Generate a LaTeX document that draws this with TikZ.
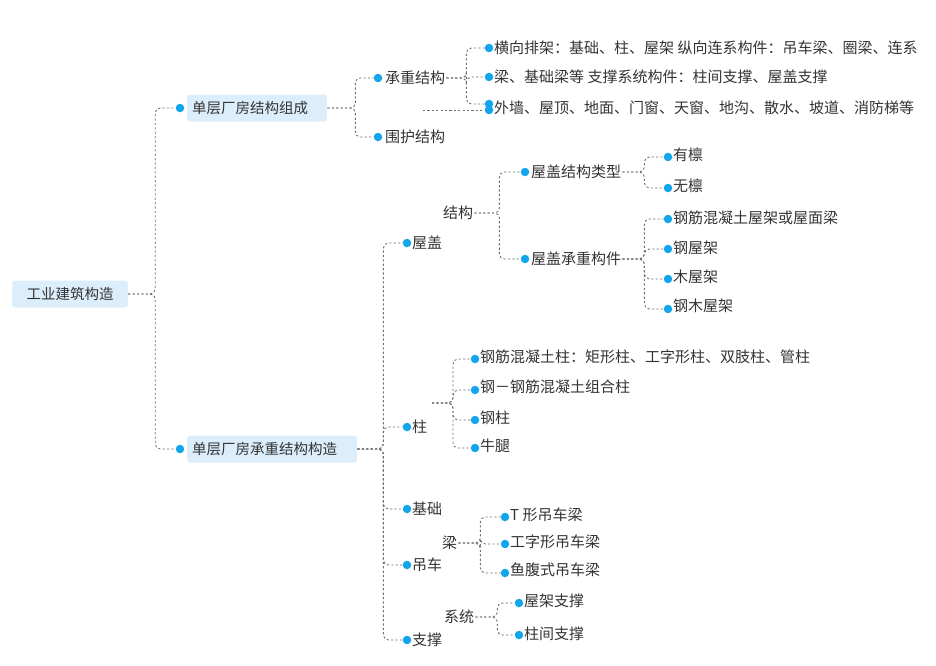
\documentclass[tikz,border=0pt]{standalone}
\usepackage{fontspec}
\setmainfont{Noto Sans CJK SC}
\usepackage{tikz}
\usetikzlibrary{positioning}
\definecolor{dotblue}{HTML}{13A5EC}
\definecolor{boxblue}{HTML}{DCEEFB}
\definecolor{linegray}{HTML}{707070}
\definecolor{txt}{HTML}{333333}
\tikzset{
  dot/.style={circle,fill=dotblue,inner sep=0pt,minimum size=8.5pt},
  leaf/.style={inner sep=1pt,anchor=west,text=txt,font=\fontsize{15}{17}\selectfont},
  topic/.style={fill=boxblue,rounded corners=3pt,inner sep=5pt,minimum height=27pt,text=txt,font=\fontsize{14.5}{16}\selectfont},
  link/.style={draw=linegray,line width=0.9pt,dash pattern=on 2.2pt off 2.2pt,rounded corners=5pt}
}
\newcommand\branch[3]{\draw[link] (#1) -- ++(#2,0) |- (#3);}
\begin{document}
\begin{tikzpicture}[x=1pt,y=-1pt]
\useasboundingbox (0,0) rectangle (936,665);
% root
\node[topic,minimum width=116pt] (root) at (70,294) {工业建筑构造};
\node[dot] (d1) at (180,108) {};
\node[topic,text width=130pt,align=left,anchor=west] (t1) at (187,108) {单层厂房结构组成};
\node[dot] (d2) at (180,449) {};
\node[topic,text width=160pt,align=left,anchor=west] (t2) at (187,449) {单层厂房承重结构构造};
\branch{root.east}{27}{d1}
\branch{root.east}{27}{d2}
% 组成
\node[dot] (d11) at (378,78) {};
\node[leaf] (t11) at (384,78) {承重结构};
\node[dot] (d12) at (378,137) {};
\node[leaf] (t12) at (384,137) {围护结构};
\branch{t1.east}{28}{d11}
\branch{t1.east}{28}{d12}
\node[dot] (d111) at (489,48) {};
\node[leaf] (t111) at (493,48) {横向排架：基础、柱、屋架 纵向连系构件：吊车梁、圈梁、连系};
\node[dot] (d112) at (489,77) {};
\node[leaf] (t112) at (493,77) {梁、基础梁等 支撑系统构件：柱间支撑、屋盖支撑};
\node[dot] (d113) at (489,104) {};
\node[dot] (d121) at (489,110) {};
\node[leaf] (t121) at (493,108) {外墙、屋顶、地面、门窗、天窗、地沟、散水、坡道、消防梯等};
\branch{t11.east}{20}{d111}
\branch{t11.east}{20}{d112}
\branch{t11.east}{20}{d113}
\coordinate (c121) at (423,110);
\draw[link] (c121) -- (d121);
% 承重结构构造
\node[dot] (d21) at (407,243) {};
\node[leaf] (t21) at (411,243) {屋盖};
\node[dot] (d22) at (407,427) {};
\node[leaf] (t22) at (411,427) {柱};
\node[dot] (d23) at (407,509) {};
\node[leaf] (t23) at (411,509) {基础};
\node[dot] (d24) at (407,565) {};
\node[leaf] (t24) at (411,565) {吊车};
\node[dot] (d25) at (407,640) {};
\node[leaf] (t25) at (411,640) {支撑};
\foreach \k in {21,22,23,24,25}{\branch{t2.east}{26}{d\k}}
% 屋盖
\node[leaf] (s1) at (442,213) {结构};
\node[dot] (d211) at (525,172) {};
\node[leaf] (t211) at (530,172) {屋盖结构类型};
\node[dot] (d212) at (525,259) {};
\node[leaf] (t212) at (530,259) {屋盖承重构件};
\branch{s1.east}{25}{d211}
\branch{s1.east}{25}{d212}
\node[dot] (e1) at (668,157) {};
\node[leaf] at (672,155) {有檩};
\node[dot] (e2) at (668,188) {};
\node[leaf] at (672,186) {无檩};
\branch{t211.east}{22}{e1}
\branch{t211.east}{22}{e2}
\node[dot] (e3) at (668,219) {};
\node[leaf] at (672,218) {钢筋混凝土屋架或屋面梁};
\node[dot] (e4) at (668,249) {};
\node[leaf] at (672,248) {钢屋架};
\node[dot] (e5) at (668,279) {};
\node[leaf] at (672,277) {木屋架};
\node[dot] (e6) at (668,309) {};
\node[leaf] at (672,306) {钢木屋架};
\foreach \k in {3,4,5,6}{\branch{t212.east}{22}{e\k}}
% 柱
\coordinate (c22) at (432,403);
\node[dot] (f1) at (475,359) {};
\node[leaf] at (479,357) {钢筋混凝土柱：矩形柱、工字形柱、双肢柱、管柱};
\node[dot] (f2) at (475,390) {};
\node[leaf] at (479,387) {钢－钢筋混凝土组合柱};
\node[dot] (f3) at (475,420) {};
\node[leaf] at (479,418) {钢柱};
\node[dot] (f4) at (475,448) {};
\node[leaf] at (479,446) {牛腿};
\foreach \k in {1,2,3,4}{\branch{c22}{21}{f\k}}
% 吊车
\node[leaf] (s2) at (441,543) {梁};
\node[dot] (g1) at (505,517) {};
\node[leaf] at (509,515) {T 形吊车梁};
\node[dot] (g2) at (505,544) {};
\node[leaf] at (509,542) {工字形吊车梁};
\node[dot] (g3) at (505,573) {};
\node[leaf] at (509,570) {鱼腹式吊车梁};
\foreach \k in {1,2,3}{\branch{s2.east}{22}{g\k}}
% 支撑
\node[leaf] (s3) at (443,617) {系统};
\node[dot] (h1) at (519,603) {};
\node[leaf] at (523,601) {屋架支撑};
\node[dot] (h2) at (519,635) {};
\node[leaf] at (523,634) {柱间支撑};
\branch{s3.east}{22}{h1}
\branch{s3.east}{22}{h2}
\end{tikzpicture}
\end{document}
